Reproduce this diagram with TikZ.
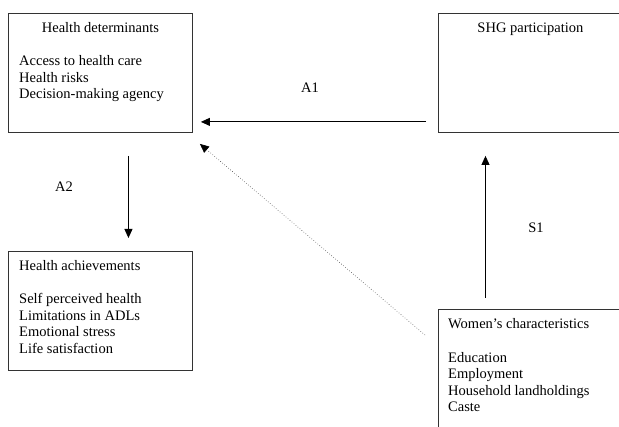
\documentclass[tikz,border=0pt]{standalone}
\usepackage{fontspec}
\setmainfont{Liberation Serif}
\usetikzlibrary{positioning,arrows.meta}

\tikzset{
    box/.style={draw=black!80,line width=0.9pt,rectangle,inner sep=0pt,anchor=north west},
    txt/.style={inner sep=0pt,align=left,font=\fontsize{14.5}{16.6}\selectfont},
    arr/.style={line width=0.9pt,-{Triangle[length=9pt,width=8pt]}},
    darr/.style={dotted,line width=0.6pt,black!70,-{Triangle[length=9pt,width=8pt,color=black]}}
}

\begin{document}
\begin{tikzpicture}[x=1pt,y=-1pt]
    \useasboundingbox (0,0) rectangle (619,427);
    \clip (0,0) rectangle (619,427);

    % boxes
    \node[box,minimum width=184pt,minimum height=119pt] (detbox) at (8,13) {};
    \node[box,minimum width=184pt,minimum height=119pt] (shgbox) at (438,13) {};
    \node[box,minimum width=184pt,minimum height=119pt] (achbox) at (8,251) {};
    \node[box,minimum width=184pt,minimum height=130pt] (womenbox) at (438,309) {};

    % box texts (base = last line)
    \node[txt,anchor=base] (dettitle) at ([yshift=-19.5pt]detbox.north) {Health determinants};
    \node[txt,anchor=base west] (detlist) at ([xshift=11pt,yshift=-86pt]detbox.north west)
        {Access to health care\\Health risks\\Decision-making agency};
    \node[txt,anchor=base] (shgtitle) at ([yshift=-19.5pt]shgbox.north) {SHG participation};
    \node[txt,anchor=base west] (achlist) at ([xshift=11pt,yshift=-102.5pt]achbox.north west)
        {Health achievements\\[16.6pt]Self perceived health\\Limitations in ADLs\\Emotional stress\\Life satisfaction};
    \node[txt,anchor=base west] (womenlist) at ([xshift=10pt,yshift=-103pt]womenbox.north west)
        {Women's characteristics\\[16.6pt]Education\\Employment\\Household landholdings\\Caste};

    % links
    \draw[arr] ([xshift=-12pt,yshift=11pt]shgbox.south west) -- ([xshift=8pt,yshift=11pt]detbox.south east);
    \draw[arr] ([xshift=28pt,yshift=-23pt]detbox.south) -- ([xshift=28pt,yshift=13pt]achbox.north);
    \draw[arr] ([xshift=47.5pt,yshift=11pt]womenbox.north west) -- ([xshift=47.5pt,yshift=-23pt]shgbox.south west);
    \draw[darr] ([xshift=-13pt,yshift=-26pt]womenbox.north west) -- ([xshift=7pt,yshift=-11pt]detbox.south east);

    % labels
    \node[txt,anchor=base] (lbla1) at (310,93) {A1};
    \node[txt,anchor=base] (lbla2) at (64,192) {A2};
    \node[txt,anchor=base] (lbls1) at (536,233) {S1};
\end{tikzpicture}
\end{document}
